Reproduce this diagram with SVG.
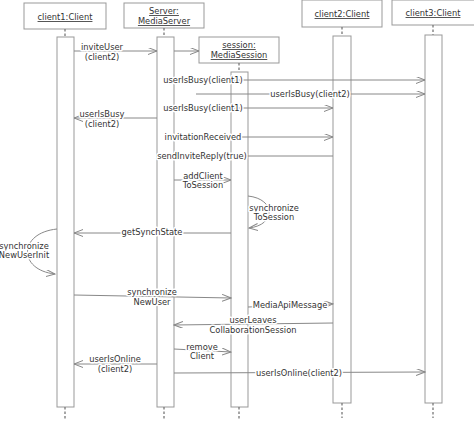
<svg xmlns="http://www.w3.org/2000/svg" width="474" height="434" viewBox="0 0 474 434">
<defs>
<style>
.box{fill:#fff;stroke:#999;stroke-width:1}
.act{fill:#fff;stroke:#999;stroke-width:1}
.life{stroke:#777;stroke-width:1.3;stroke-dasharray:2.5,2;fill:none}
.msg{stroke:#888;stroke-width:1;fill:none}
text{font-family:"DejaVu Sans","Liberation Sans",sans-serif;font-size:8.3px;fill:#333;text-anchor:middle}
.lbl{stroke:#fff;stroke-width:3;paint-order:stroke;stroke-linejoin:round}
.u{text-decoration:underline}
.left{text-anchor:start}
</style>
<marker id="ah" markerWidth="10" markerHeight="8" refX="9" refY="3.5" orient="auto" markerUnits="userSpaceOnUse">
<path d="M0,0 L9,3.5 L0,7" fill="none" stroke="#888" stroke-width="1"/>
</marker>
</defs>
<rect width="474" height="434" fill="#fff"/>

<g id="client1">
<rect class="box" x="24" y="3" width="82" height="26"/>
<text class="u" x="65" y="20">client1:Client</text>
<line class="life" x1="65" y1="29" x2="65" y2="37"/>
<rect class="act" x="57" y="37" width="17" height="370"/>
<line class="life" x1="65" y1="407" x2="65" y2="420"/>
</g>

<g id="server">
<rect class="box" x="124" y="3" width="80" height="25"/>
<text class="u" x="164" y="14">Server:</text>
<text class="u" x="164" y="24">MediaServer</text>
<line class="life" x1="164" y1="28" x2="164" y2="37"/>
<rect class="act" x="157" y="37" width="17" height="370"/>
<line class="life" x1="164" y1="407" x2="164" y2="420"/>
</g>

<g id="session">
<rect class="box" x="199" y="37" width="80" height="26"/>
<text class="u" x="239" y="48">session:</text>
<text class="u" x="239" y="58">MediaSession</text>
<line class="life" x1="239" y1="63" x2="239" y2="72"/>
<rect class="act" x="231" y="72" width="17" height="335"/>
<line class="life" x1="239" y1="407" x2="239" y2="420"/>
</g>

<g id="client2">
<rect class="box" x="302" y="0" width="80" height="27"/>
<text class="u" x="342" y="17">client2:Client</text>
<line class="life" x1="342" y1="27" x2="342" y2="36"/>
<rect class="act" x="333" y="36" width="18" height="367"/>
<line class="life" x1="342" y1="403" x2="342" y2="418"/>
</g>

<g id="client3">
<rect class="box" x="392" y="0" width="90" height="25"/>
<text class="u" x="433" y="16">client3:Client</text>
<line class="life" x1="433" y1="25" x2="433" y2="35"/>
<rect class="act" x="425" y="35" width="17" height="368"/>
<line class="life" x1="433" y1="403" x2="433" y2="418"/>
</g>

<g id="connectors">
<line class="msg" x1="74" y1="51" x2="157" y2="51" marker-end="url(#ah)"/>
<line class="msg" x1="174" y1="51" x2="199" y2="51" marker-end="url(#ah)"/>
<line class="msg" x1="174" y1="80" x2="425" y2="80" marker-end="url(#ah)"/>
<line class="msg" x1="196" y1="94" x2="425" y2="94" marker-end="url(#ah)"/>
<line class="msg" x1="174" y1="108" x2="333" y2="108" marker-end="url(#ah)"/>
<line class="msg" x1="157" y1="118" x2="74" y2="118" marker-end="url(#ah)"/>
<line class="msg" x1="174" y1="137" x2="333" y2="137" marker-end="url(#ah)"/>
<line class="msg" x1="333" y1="156" x2="176" y2="156"/>
<line class="msg" x1="174" y1="180" x2="231" y2="180" marker-end="url(#ah)"/>
<path class="msg" d="M248,196 C276,199 276,225 249,228" marker-end="url(#ah)"/>
<line class="msg" x1="231" y1="233" x2="74" y2="233" marker-end="url(#ah)"/>
<path class="msg" d="M57,229 C18,233 18,270 55,274" marker-end="url(#ah)"/>
<line class="msg" x1="74" y1="295" x2="231" y2="298" marker-end="url(#ah)"/>
<line class="msg" x1="248" y1="307" x2="333" y2="304" marker-end="url(#ah)"/>
<line class="msg" x1="333" y1="323" x2="174" y2="325" marker-end="url(#ah)"/>
<line class="msg" x1="174" y1="349" x2="231" y2="352" marker-end="url(#ah)"/>
<line class="msg" x1="157" y1="364" x2="74" y2="364" marker-end="url(#ah)"/>
<line class="msg" x1="174" y1="373" x2="425" y2="372" marker-end="url(#ah)"/>
</g>

<g id="labels">
<text class="lbl" x="102" y="50">inviteUser</text>
<text class="lbl" x="102" y="60">(client2)</text>
<text class="lbl" x="203" y="83">userIsBusy(client1)</text>
<text class="lbl" x="310" y="97">userIsBusy(client2)</text>
<text class="lbl" x="203" y="111">userIsBusy(client1)</text>
<text class="lbl" x="102" y="117">userIsBusy</text>
<text class="lbl" x="102" y="127">(client2)</text>
<text class="lbl" x="203" y="140">invitationReceived</text>
<text class="lbl" x="202" y="159">sendInviteReply(true)</text>
<text class="lbl" x="203" y="179">addClient</text>
<text class="lbl" x="203" y="188">ToSession</text>
<text class="lbl" x="274" y="211">synchronize</text>
<text class="lbl" x="274" y="220">ToSession</text>
<text class="lbl" x="152" y="235">getSynchState</text>
<text class="lbl" x="24" y="249">synchronize</text>
<text class="lbl" x="24" y="258">NewUserInit</text>
<text class="lbl" x="152" y="295">synchronize</text>
<text class="lbl" x="152" y="305">NewUser</text>
<text class="lbl" x="290" y="308">MediaApiMessage</text>
<text class="lbl" x="253" y="323">userLeaves</text>
<text class="lbl" x="253" y="333">CollaborationSession</text>
<text class="lbl" x="202" y="350">remove</text>
<text class="lbl" x="202" y="359">Client</text>
<text class="lbl" x="115" y="362">userIsOnline</text>
<text class="lbl" x="115" y="372">(client2)</text>
<text class="lbl" x="299" y="376">userIsOnline(client2)</text>
</g>
</svg>
